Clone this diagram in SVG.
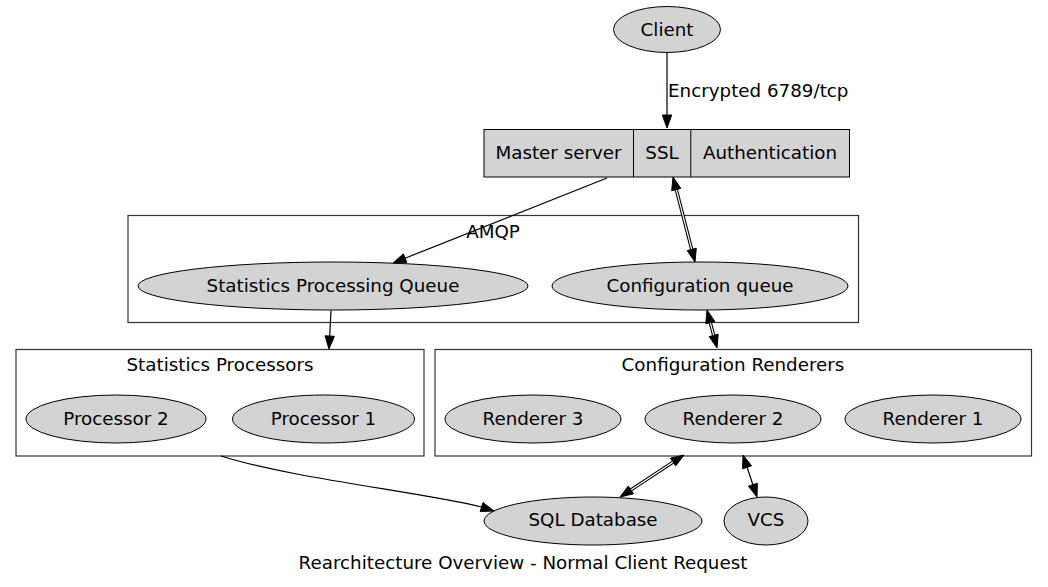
<svg xmlns="http://www.w3.org/2000/svg" width="1048" height="587" viewBox="0 0 1048 587">
<style>
text{font-family:"DejaVu Sans","Liberation Sans",sans-serif;font-size:18.3px;fill:#000}
.c{text-anchor:middle}
.n{fill:#d3d3d3;stroke:#000;stroke-width:1}
.cl{fill:none;stroke:#333;stroke-width:1.2}
.e{fill:none;stroke:#000;stroke-width:1.2}
.d{fill:none;stroke:#000;stroke-width:3.4}
.dw{fill:none;stroke:#fff;stroke-width:1.2}
.a{fill:#000;stroke:#000;stroke-width:1}
</style>
<rect width="1048" height="587" fill="#fff"/>
<g id="cluster_amqp">
<rect class="cl" x="128" y="215.5" width="730.5" height="107"/>
<text class="c" x="493" y="238">AMQP</text>
</g>
<g id="cluster_stats">
<rect class="cl" x="16" y="349.5" width="408" height="106.5"/>
<text class="c" x="220" y="370.5">Statistics Processors</text>
</g>
<g id="cluster_renderers">
<rect class="cl" x="435" y="349.5" width="596.5" height="106.5"/>
<text class="c" x="733" y="371">Configuration Renderers</text>
</g>
<g id="client">
<ellipse class="n" cx="667" cy="29.5" rx="53.5" ry="23"/>
<text class="c" x="667" y="36">Client</text>
</g>
<g id="master">
<rect class="n" x="484" y="129.5" width="365.5" height="47.5"/>
<line x1="633.5" y1="129.5" x2="633.5" y2="177" stroke="#000"/>
<line x1="690.8" y1="129.5" x2="690.8" y2="177" stroke="#000"/>
<text class="c" x="558.5" y="158.5">Master server</text>
<text class="c" x="662" y="158.5">SSL</text>
<text class="c" x="770" y="158.5">Authentication</text>
</g>
<g id="statq">
<ellipse class="n" cx="333" cy="286" rx="195" ry="24"/>
<text class="c" x="333" y="291.5">Statistics Processing Queue</text>
</g>
<g id="confq">
<ellipse class="n" cx="700" cy="286" rx="148" ry="24"/>
<text class="c" x="700" y="291.5">Configuration queue</text>
</g>
<g id="proc2">
<ellipse class="n" cx="116" cy="419" rx="90" ry="24"/>
<text class="c" x="116" y="425">Processor 2</text>
</g>
<g id="proc1">
<ellipse class="n" cx="323.5" cy="419" rx="91" ry="24"/>
<text class="c" x="323.5" y="425">Processor 1</text>
</g>
<g id="rend3">
<ellipse class="n" cx="533" cy="419" rx="88" ry="24"/>
<text class="c" x="533" y="425">Renderer 3</text>
</g>
<g id="rend2">
<ellipse class="n" cx="733" cy="419" rx="88" ry="24"/>
<text class="c" x="733" y="425">Renderer 2</text>
</g>
<g id="rend1">
<ellipse class="n" cx="933" cy="419" rx="88" ry="24"/>
<text class="c" x="933" y="425">Renderer 1</text>
</g>
<g id="sql">
<ellipse class="n" cx="593" cy="521" rx="109" ry="24"/>
<text class="c" x="593" y="526">SQL Database</text>
</g>
<g id="vcs">
<ellipse class="n" cx="766" cy="521" rx="42" ry="24"/>
<text class="c" x="766" y="526">VCS</text>
</g>
<g id="connectors">
<line class="e" x1="667" y1="52.5" x2="667" y2="115"/>
<polygon class="a" points="667,128 662.3,115 671.7,115"/>
<text x="668" y="97">Encrypted 6789/tcp</text>

<line class="e" x1="607" y1="178" x2="405.1" y2="258.2"/>
<polygon class="a" points="393,263 403.4,253.8 406.8,262.6"/>

<line class="d" x1="676.3" y1="189.6" x2="691.7" y2="249.4"/>
<line class="dw" x1="676.3" y1="189.6" x2="691.7" y2="249.4"/>
<polygon class="a" points="673,177 671.7,190.8 680.8,188.4"/>
<polygon class="a" points="695,262 687.2,250.6 696.3,248.2"/>

<line class="d" x1="710.3" y1="322.6" x2="713.7" y2="335.4"/>
<line class="dw" x1="710.3" y1="322.6" x2="713.7" y2="335.4"/>
<polygon class="a" points="707,310 705.8,323.8 714.8,321.4"/>
<polygon class="a" points="717,348 709.2,336.6 718.2,334.2"/>

<line class="e" x1="331" y1="310.5" x2="329.7" y2="336"/>
<polygon class="a" points="329,349 325,335.8 334.4,336.3"/>

<path class="e" d="M221,456 C290,478 420,492 481.6,507"/>
<polygon class="a" points="494,511 480.2,511.5 483,502.5"/>

<line class="d" x1="673.1" y1="462.1" x2="630.9" y2="489.9"/>
<line class="dw" x1="673.1" y1="462.1" x2="630.9" y2="489.9"/>
<polygon class="a" points="684,455 670.5,458.2 675.7,466"/>
<polygon class="a" points="620,497 628.3,486 633.5,493.8"/>

<line class="e" x1="747.1" y1="467.3" x2="752.9" y2="484.7"/>
<polygon class="a" points="743,455 742.6,468.8 751.6,465.8"/>
<polygon class="a" points="757,497 748.4,486.2 757.4,483.2"/>
</g>
<text class="c" x="523" y="569">Rearchitecture Overview - Normal Client Request</text>
</svg>
